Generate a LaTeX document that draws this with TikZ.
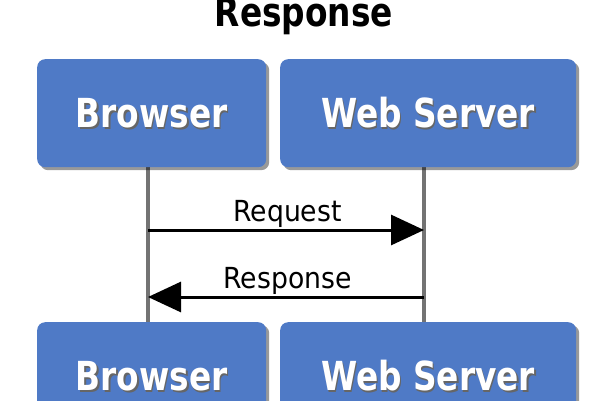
\documentclass[tikz,border=0pt]{standalone}
\usepackage{fontspec}
\setmainfont{DejaVu Sans}
\newfontfamily\boxfont[FakeStretch=0.82]{DejaVu Sans}
\newfontfamily\lblfont[FakeStretch=0.92]{DejaVu Sans}
\usetikzlibrary{arrows.meta,shadows}
\definecolor{boxblue}{RGB}{79,122,198}
\definecolor{lifegray}{RGB}{115,115,115}
\newcommand\shadowed[1]{\rlap{\kern1.5pt\raisebox{-1.5pt}{\color{black!60}#1}}#1}
\begin{document}
\begin{tikzpicture}[x=1pt,y=-1pt,
  box/.style={fill=boxblue, rounded corners=8pt,
    drop shadow={shadow xshift=3pt,shadow yshift=-3pt,opacity=0.4,fill=black},
    text=white, font=\boxfont\bfseries\fontsize{40}{48}\selectfont,
    text height=29pt, text depth=0pt, inner sep=0pt, anchor=north west,
    minimum height=108pt},
  lifeline/.style={draw=lifegray, line width=3.5pt},
  msg/.style={draw=black, line width=3pt, -{Triangle[length=33pt,width=30pt]}},
  lbl/.style={font=\lblfont\fontsize{29}{34}\selectfont, inner sep=0pt, anchor=base},
  ttl/.style={font=\boxfont\bfseries\fontsize{40}{48}\selectfont, inner sep=0pt, anchor=base}]
\path[use as bounding box] (0,0) rectangle (600,400);
\clip (0,0) rectangle (600,400);
\node[ttl] (title) at (304,26) {Response};
% lifelines
\coordinate (l1t) at (148,167);
\coordinate (l1b) at (148,322);
\coordinate (l2t) at (424,167);
\coordinate (l2b) at (424,322);
\draw[lifeline] (l1t) -- (l1b);
\draw[lifeline] (l2t) -- (l2b);
% boxes
\node[box, minimum width=229pt] (b1) at (37,59) {\shadowed{Browser}};
\node[box, minimum width=296pt] (b2) at (280,59) {\shadowed{Web Server}};
\node[box, minimum width=229pt] (b3) at (37,322) {\shadowed{Browser}};
\node[box, minimum width=296pt] (b4) at (280,322) {\shadowed{Web Server}};
% messages
\coordinate (q1) at (148,230);
\coordinate (q2) at (424,230);
\coordinate (s1) at (148,297);
\coordinate (s2) at (424,297);
\draw[msg] (q1) -- (q2);
\draw[msg] (s2) -- (s1);
\node[lbl] (reqlbl) at (287.5,221) {Request};
\node[lbl] (reslbl) at (287.5,288) {Response};
\end{tikzpicture}
\end{document}
